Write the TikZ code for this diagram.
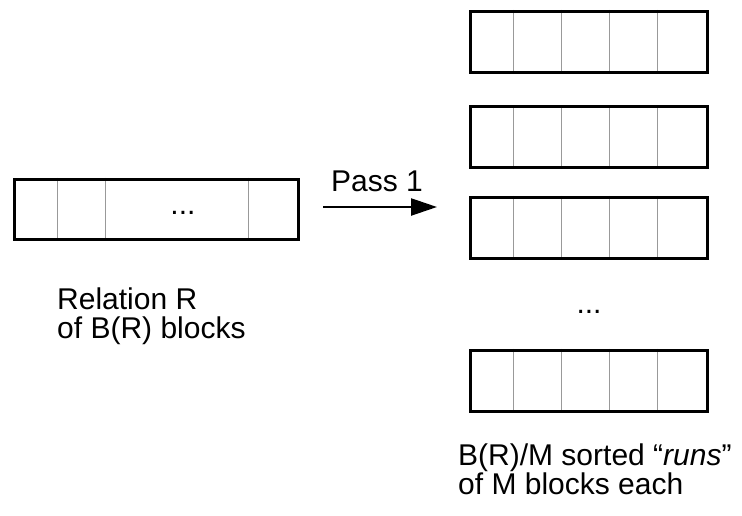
\documentclass[tikz,border=0pt]{standalone}
\usepackage{fontspec}
\setmainfont{Liberation Sans}
\usetikzlibrary{calc,arrows.meta}
\tikzset{
  blk/.style={draw=black, line width=3pt, fill=none, inner sep=0pt},
  run/.style={blk, minimum width=237pt, minimum height=61pt},
  divider/.style={draw=black!40, line width=1.4pt},
  lbl/.style={font=\fontsize{30}{29}\selectfont, inner sep=0pt, align=left},
  arr/.style={line width=2.4pt, -{Triangle[length=26pt,width=17pt]}}
}
\begin{document}
\begin{tikzpicture}[x=1pt,y=-1pt]
\useasboundingbox (0,0) rectangle (742,515);
% left relation
\node[blk, minimum width=284pt, minimum height=60pt] (rel) at (156,209) {};
\foreach \d in {45,93,236} {
  \draw[divider] ($(rel.north west)+(\d,0)$) -- ($(rel.south west)+(\d,0)$);
}
\node[blk, minimum width=284pt, minimum height=60pt] at (rel) {};
\node[lbl] (dots1) at (183,213) {...};
% runs
\foreach \n/\y in {r1/41.5, r2/137, r3/227.5, r4/380.5} {
  \node[run] (\n) at (588.5,\y) {};
  \foreach \d in {45,93,141,189} {
    \draw[divider] ($(\n.north west)+(\d,0)$) -- ($(\n.south west)+(\d,0)$);
  }
  \node[run] at (\n) {};
}
\node[lbl] (dots2) at (589,312) {...};
% arrow
\coordinate (a0) at (323,207);
\coordinate (a1) at (437,207);
\draw[arr] (a0) -- (a1);
\node[lbl, anchor=base] (pass) at (377,191) {Pass 1};
% labels
\node[lbl, anchor=north west] (rlab) at (57,288) {Relation R\\of B(R) blocks};
\node[lbl, anchor=north west] (slab) at (458,444) {B(R)/M sorted “\textit{runs}”\\of M blocks each};
\end{tikzpicture}
\end{document}
